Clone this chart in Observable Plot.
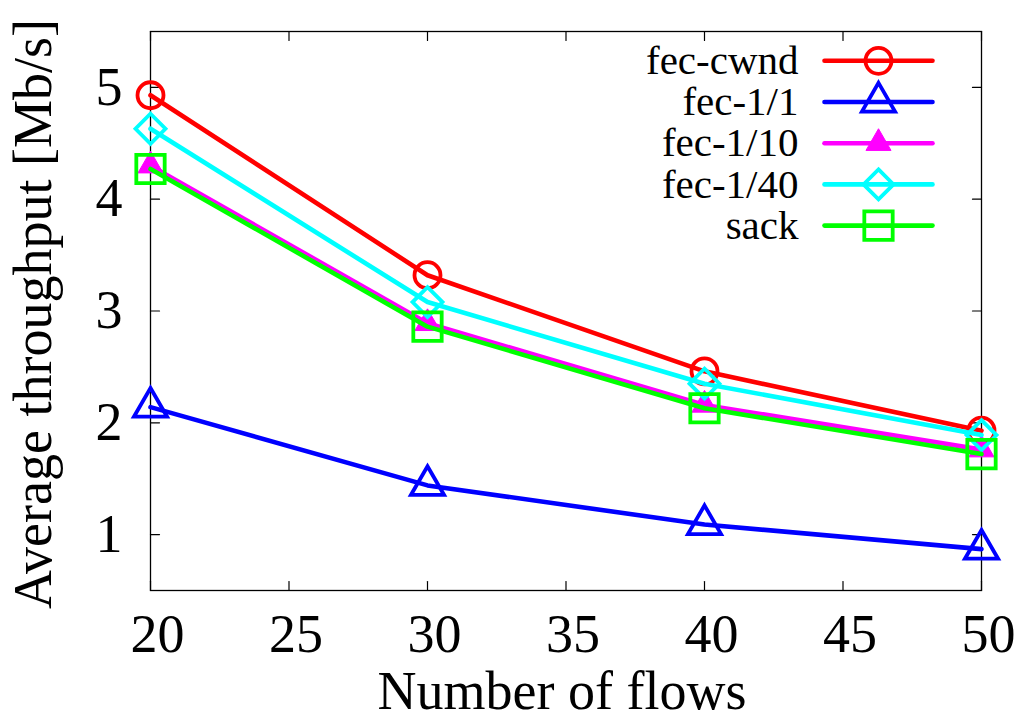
<!DOCTYPE html>
<html><head><meta charset="utf-8">
<script src="https://cdn.jsdelivr.net/npm/d3@7"></script>
<script src="https://cdn.jsdelivr.net/npm/@observablehq/plot@0.6"></script>
<style>html,body{margin:0;padding:0;background:#fff;}</style>
</head><body><div id="chart"></div>
<script>
// ---- data ----
const flows = [20, 30, 40, 50];
const seriesNames = ["fec-cwnd", "fec-1/1", "fec-1/10", "fec-1/40", "sack"];
const fecCwnd = [4.93, 3.32, 2.46, 1.93];
const fec1of1 = [2.14, 1.44, 1.09, 0.87];
const fec1of10 = [4.30, 2.89, 2.16, 1.76];
const fec1of40 = [4.63, 3.08, 2.35, 1.89];
const sack = [4.27, 2.86, 2.13, 1.72];
const seriesValues = [fecCwnd, fec1of1, fec1of10, fec1of40, sack];
const xTicks = [20, 25, 30, 35, 40, 45, 50];
const yTicks = [1, 2, 3, 4, 5];
const xDomain = [20, 50];
const yDomain = [0.5, 5.5];
const xLabel = "Number of flows";
const yLabel = "Average throughput [Mb/s]";

// ---- styles ----
const FONT = "Liberation Serif";
const seriesColors = ["#ff0000", "#0000ff", "#ff00ff", "#00ffff", "#00ff00"];
const seriesSymbols = ["circle", "triangle", "triangle", "diamond2", "square"];
const seriesR = [13, 12.3, 9.3, 13.5, 16];
const seriesFilled = [false, false, true, false, false];

const tickShape = {draw(ctx, l) { ctx.moveTo(0, 0); ctx.lineTo(0, -l); }};
const hLineShape = {draw(ctx, l) { ctx.moveTo(-l / 2, 0); ctx.lineTo(l / 2, 0); }};

const marks = [];
// inward ticks (gnuplot style) on all four sides
const tickOpts = {length: 9, anchor: "start", shape: tickShape, stroke: "black", strokeWidth: 1.2};
marks.push(Plot.vector(xTicks, {...tickOpts, x: d => d, y: yDomain[0], rotate: 0}));
marks.push(Plot.vector(xTicks, {...tickOpts, x: d => d, y: yDomain[1], rotate: 180}));
marks.push(Plot.vector(yTicks, {...tickOpts, y: d => d, x: xDomain[0], rotate: 90}));
marks.push(Plot.vector(yTicks, {...tickOpts, y: d => d, x: xDomain[1], rotate: 270}));
marks.push(Plot.frame({stroke: "black", strokeWidth: 1.3}));
marks.push(Plot.axisX({ticks: xTicks, tickSize: 0, tickPadding: 23, dx: 7, label: null, tickFormat: d => String(d),
  fontFamily: FONT, fontSize: 54, fill: "black"}));
marks.push(Plot.axisY({ticks: yTicks, tickSize: 0, tickPadding: 28, label: null, tickFormat: d => String(d),
  fontFamily: FONT, fontSize: 54, fill: "black"}));

seriesNames.forEach((name, s) => {
  const rows = flows.map((f, i) => ({flows: f, value: seriesValues[s][i], series: name}));
  const color = seriesColors[s];
  const dotStyle = {symbol: seriesSymbols[s], r: seriesR[s], stroke: color,
    strokeWidth: seriesFilled[s] ? 1 : 3.8, fill: seriesFilled[s] ? color : "none"};
  marks.push(Plot.line(rows, {x: "flows", y: "value", stroke: color, strokeWidth: 4.6}));
  marks.push(Plot.dot(rows, {x: "flows", y: "value", ...dotStyle}));
  // legend row
  const dy = 29.3 + 41.2 * s;
  marks.push(Plot.vector([name], {frameAnchor: "top-right", dx: -103, dy, length: 108, rotate: 0,
    anchor: "start", shape: hLineShape, stroke: color, strokeWidth: 4.6}));
  marks.push(Plot.dot([name], {frameAnchor: "top-right", dx: -103, dy, ...dotStyle}));
  marks.push(Plot.text([name], {text: d => d, frameAnchor: "top-right", dx: -183, dy,
    textAnchor: "end", lineAnchor: "middle", fontSize: 41, fontFamily: FONT, fill: "black"}));
});

marks.push(Plot.text([xLabel], {text: d => d, frameAnchor: "bottom", dx: -4, dy: 101,
  textAnchor: "middle", lineAnchor: "middle", fontSize: 54, fontFamily: FONT, fill: "black"}));
marks.push(Plot.text([yLabel], {text: d => d, frameAnchor: "left", dx: -117, dy: 3, rotate: -90,
  textAnchor: "middle", lineAnchor: "middle", fontSize: 54, fontFamily: FONT, fill: "black"}));

const chart = Plot.plot({
  width: 1021,
  height: 720,
  marginLeft: 150,
  marginRight: 40,
  marginTop: 31,
  marginBottom: 130,
  x: {domain: xDomain},
  y: {domain: yDomain},
  style: {fontFamily: FONT, fontSize: "54px", color: "black", background: "white"},
  marks
});
document.getElementById("chart").appendChild(chart);
</script>
</body></html>
